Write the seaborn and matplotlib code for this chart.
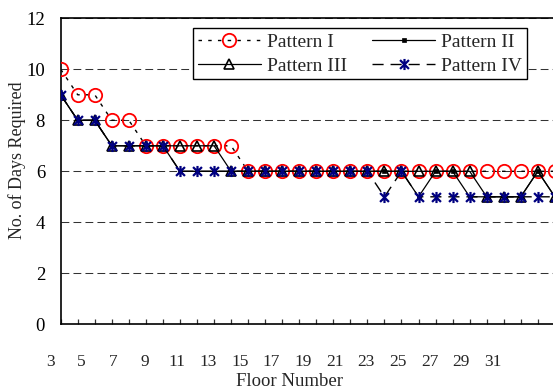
import matplotlib
matplotlib.use("Agg")
import matplotlib.pyplot as plt
from matplotlib.path import Path
import numpy as np
import pandas as pd
import seaborn as sns

# ---------------- data ----------------
floors = list(range(3, 33))
pattern_1 = [10, 9, 9, 8, 8, 7, 7, 7, 7, 7, 7] + [6] * 19
pattern_2 = [9, 8, 8, 7, 7, 7, 7] + [6] * 14 + [5, 6, 6, 5, 5, 5, 5, 6, 5]
pattern_3 = [9, 8, 8, 7, 7, 7, 7, 7, 7, 7] + [6] * 15 + [5, 5, 5, 6, 5]
pattern_4 = [9, 8, 8, 7, 7, 7, 7] + [6] * 12 + [5, 6] + [5] * 9
series_names = ["Pattern I", "Pattern II", "Pattern III", "Pattern IV"]
x_tick_labels = [str(v) for v in range(3, 32, 2)]
y_ticks = [0, 2, 4, 6, 8, 10, 12]

sns.set_theme(style="white")
plt.rcParams["font.family"] = ["Liberation Serif", "DejaVu Serif"]

W, H = 553, 392
fig = plt.figure(figsize=(W / 100, H / 100), dpi=100)
y0, y12 = 324.3, 18.3
x3, step = 60.7, 17.04
xmax = 32.3
ax = fig.add_axes([x3 / W, (H - y0) / H, (xmax - 3) * step / W, (y0 - y12) / H])

df = pd.DataFrame({"floor": floors, "I": pattern_1, "II": pattern_2,
                   "III": pattern_3, "IV": pattern_4})

star = Path([(0, -1), (0, 1), (-0.8, -0.8), (0.8, 0.8), (-0.8, 0.8), (0.8, -0.8)],
            [Path.MOVETO, Path.LINETO, Path.MOVETO, Path.LINETO, Path.MOVETO, Path.LINETO])

sns.lineplot(data=df, x="floor", y="I", ax=ax, color="black", lw=1.0,
             linestyle=(0, (2.5, 4.5)), marker="o", markersize=9.6,
             markerfacecolor="none", markeredgecolor="#ff0000",
             markeredgewidth=1.3, label=series_names[0], zorder=3)
sns.lineplot(data=df, x="floor", y="II", ax=ax, color="black", lw=0.9,
             linestyle="-", marker="s", markersize=3.2,
             markerfacecolor="black", markeredgecolor="black",
             markeredgewidth=0.5, label=series_names[1], zorder=4)
sns.lineplot(data=df, x="floor", y="III", ax=ax, color="black", lw=0.9,
             linestyle="-", marker="^", markersize=7.5,
             markerfacecolor="none", markeredgecolor="black",
             markeredgewidth=1.2, label=series_names[2], zorder=5)
sns.lineplot(data=df, x="floor", y="IV", ax=ax, color="black", lw=1.0,
             linestyle=(0, (8, 5)), marker=star, markersize=8.0,
             markerfacecolor="none", markeredgecolor="#000080",
             markeredgewidth=1.6, label=series_names[3], zorder=6)

ax.set_xlim(3, xmax)
ax.set_ylim(0, 12)
ax.set_xticks(floors)
ax.set_xticklabels([])
ax.set_yticks(y_ticks)
ax.set_yticklabels([str(v) for v in y_ticks], fontsize=13.5)
ax.tick_params(axis="x", direction="in", length=3.6, width=0.9, color="#333333", bottom=True)
ax.tick_params(axis="y", length=0, pad=11.3, labelcolor="black")
ax.grid(axis="y", color="#333333", linestyle=(0, (7.5, 4)), linewidth=0.75)
ax.grid(axis="x", visible=False)
ax.set_xlabel("")
ax.set_ylabel("")
for side in ["left", "bottom", "top", "right"]:
    ax.spines[side].set_visible(True)
    ax.spines[side].set_color("black")
    ax.spines[side].set_linewidth(1.2)
ax.set_facecolor("white")

# Floor labels (offset category labels as in the original)
lab = fig.add_axes([50 / W, (H - y0) / H, 443 / W, 0.0001])
lab.set_xlim(3, 31)
lab.set_xticks(range(3, 32, 2))
lab.set_xticklabels(x_tick_labels, fontsize=12.5)
lab.tick_params(axis="x", length=0, pad=21.5)
lab.set_yticks([])
lab.patch.set_alpha(0)
for s in lab.spines.values():
    s.set_visible(False)

fig.text(290 / W, 1 - 381 / H, "Floor Number", ha="center", va="center", fontsize=13.5)
fig.text(17 / W, 1 - 160 / H, "No. of Days Required", ha="center", va="center",
         rotation=90, fontsize=13)

lines = ax.get_lines()[:4]
order = [0, 2, 1, 3]  # row-major layout: I, II / III, IV
leg = ax.legend(handles=[lines[i] for i in order],
                labels=[series_names[i] for i in order], ncol=2,
                loc="upper left", bbox_to_anchor=(192.7 / W, 1 - 28.3 / H),
                bbox_transform=fig.transFigure, borderaxespad=0,
                fontsize=14, frameon=True, fancybox=False, framealpha=1,
                edgecolor="black", handlelength=3.25, handletextpad=0.3,
                columnspacing=1.3, borderpad=0.25, labelspacing=0.32)
leg.get_frame().set_linewidth(1.0)
leg.set_zorder(10)

fig.savefig("out.png", dpi=100)
